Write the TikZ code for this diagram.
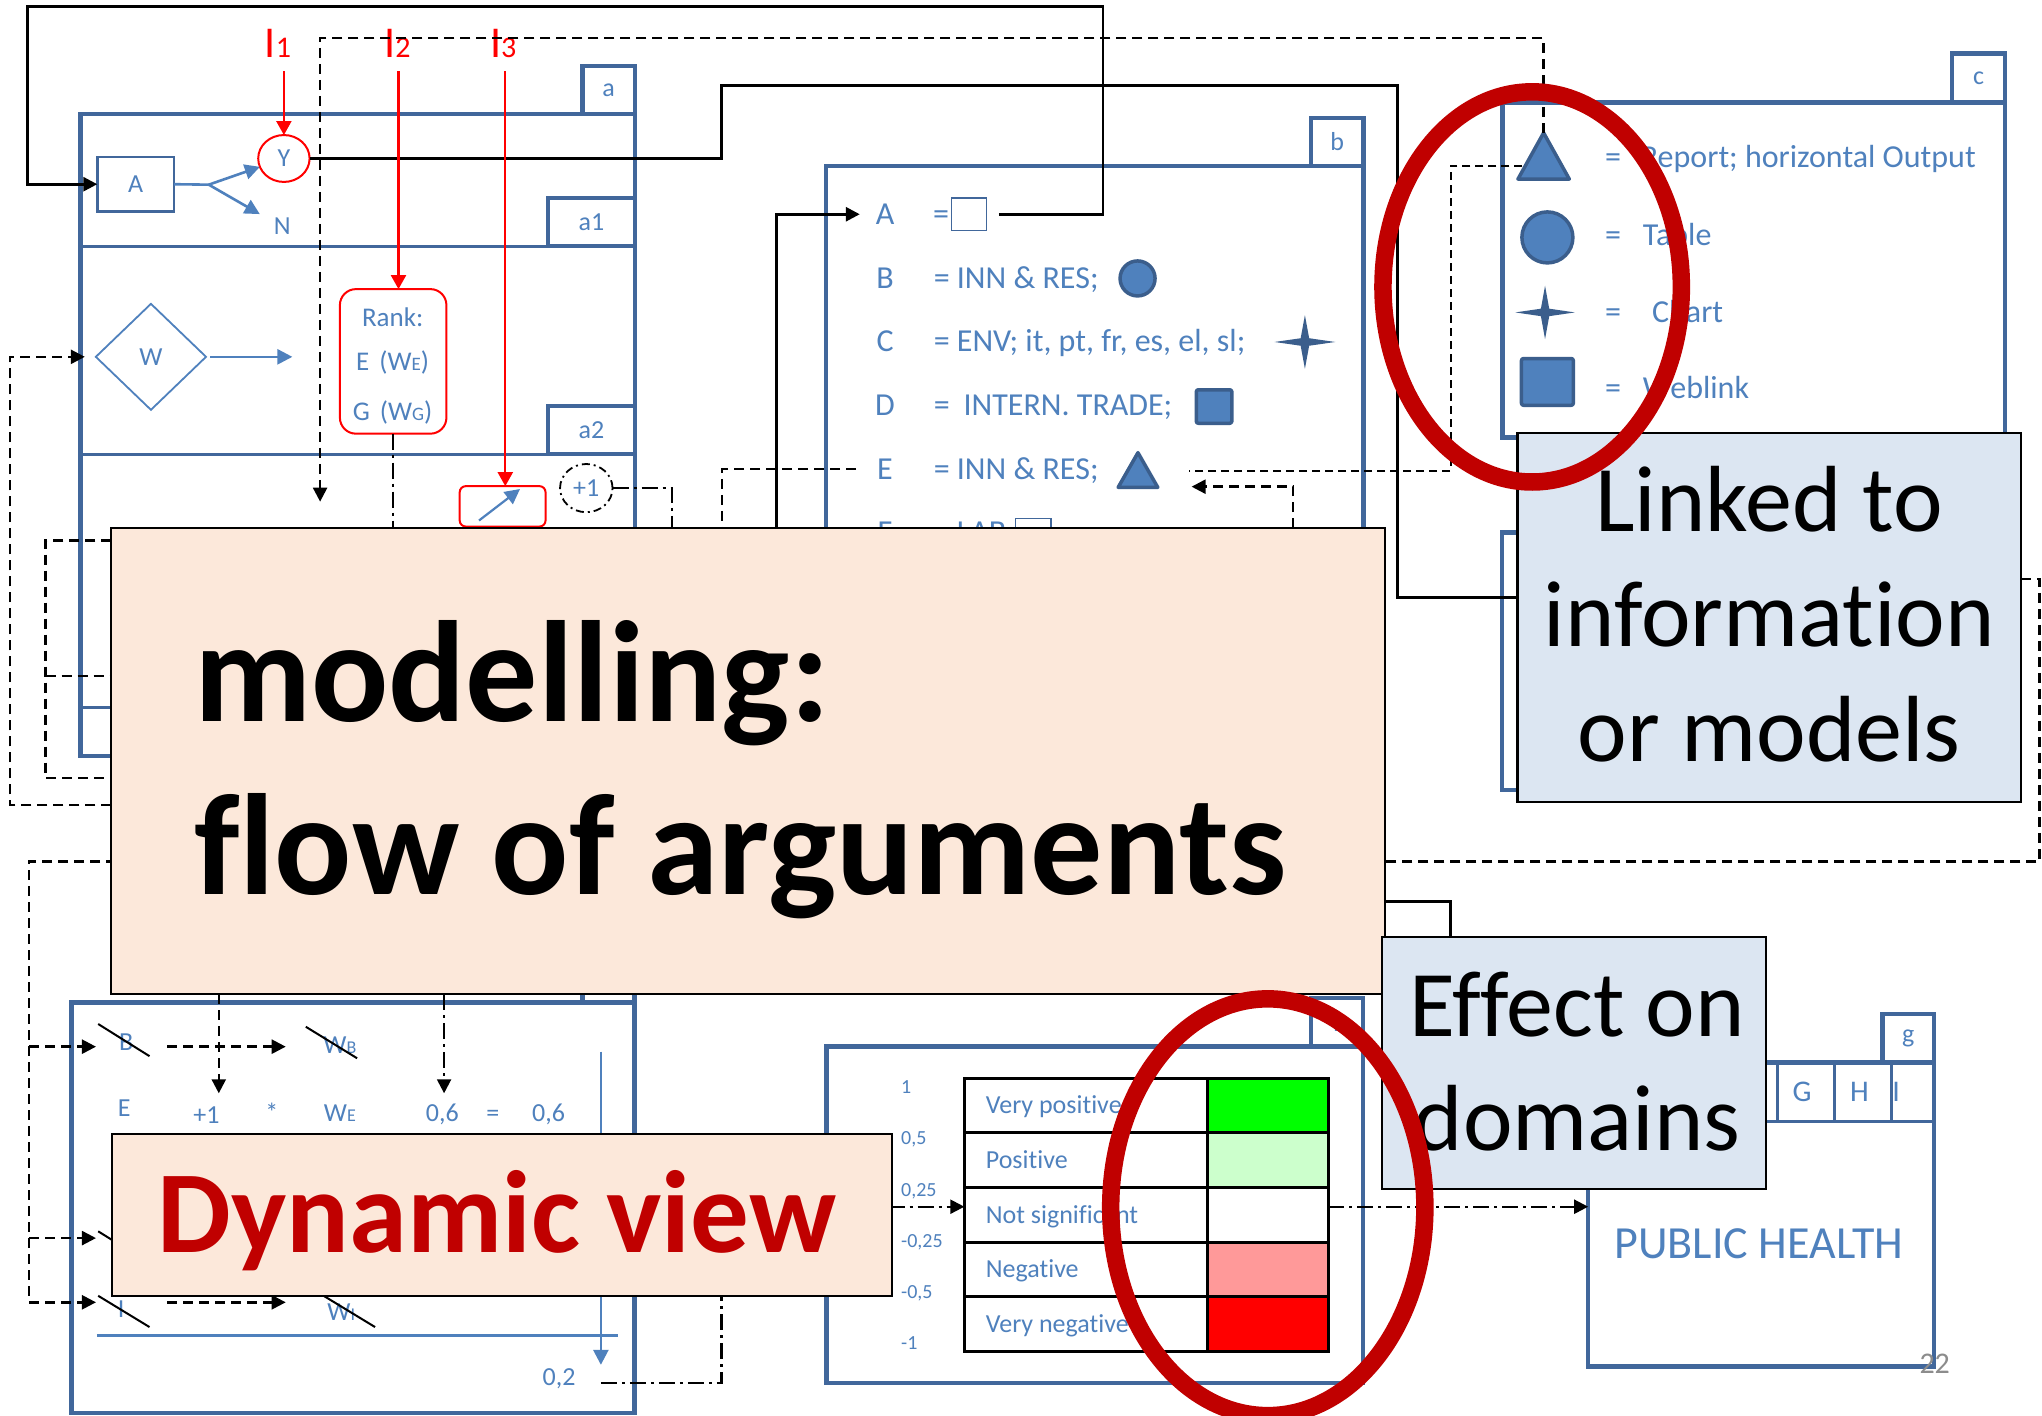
\documentclass[tikz,border=0pt]{standalone}
\usepackage{fontspec}
\setmainfont{Carlito}[Ligatures=NoCommon]
\usetikzlibrary{arrows.meta,fit,shapes.geometric,calc}
\definecolor{boxblue}{HTML}{41679B}
\definecolor{txtblue}{HTML}{4F81BD}
\definecolor{shpfill}{HTML}{4F81BD}
\definecolor{shpedge}{HTML}{3B5E8C}
\definecolor{peach}{HTML}{FCE8DA}
\definecolor{paleblue}{HTML}{DCE6F2}
\definecolor{darkred}{HTML}{C00000}
\definecolor{lgreen}{HTML}{CCFFCC}
\definecolor{lpink}{HTML}{FF9999}
\definecolor{pgray}{HTML}{8C8C8C}
\newcommand\fs[1]{\fontsize{#1}{#1}\selectfont}
\pgfdeclarelayer{front}
\pgfdeclarelayer{top}
\pgfsetlayers{main,front,top}
\tikzset{star4/.pic={\fill[shpedge] (0,-1) -- (0.14,-0.14) -- (1,0) -- (0.14,0.14) -- (0,1) -- (-0.14,0.14) -- (-1,0) -- (-0.14,-0.14) -- cycle;}}
\begin{document}
\begin{tikzpicture}[x=1.3023pt,y=-1.3023pt,
  every node/.style={inner sep=0pt,outer sep=0pt},
  bx/.style={draw=boxblue,line width=4.5pt},
  sepl/.style={draw=boxblue,line width=3pt},
  tabbox/.style={draw=boxblue,line width=4.5pt,fill=white},
  tl/.style={text=txtblue,font=\fs{26}},
  rowl/.style={text=txtblue,font=\fs{32},anchor=base},
  rowt/.style={text=txtblue,font=\fs{32},anchor=base west},
  blk/.style={draw=black,line width=2.8pt},
  dsh/.style={draw=black,line width=2.4pt,dash pattern=on 10pt off 6pt},
  dshf/.style={draw=black,line width=2pt,dash pattern=on 8pt off 5pt},
  dd/.style={draw=black,line width=2.2pt,dash pattern=on 16pt off 5pt on 3pt off 5pt},
  arr/.style={-{Triangle[length=14pt,width=14pt]}},
  rarr/.style={draw=red,line width=2.2pt,-{Triangle[length=14pt,width=15pt]}},
  blu/.style={draw=txtblue,line width=2.6pt},
  barr/.style={-{Triangle[length=15pt,width=15pt]}},
  shp/.style={fill=shpfill,draw=shpedge,line width=3.5pt,line join=round},
  slash/.style={draw=black,line width=2pt},
  bigbox/.style={draw=black,line width=2.2pt},
  cell/.style={draw=black,line width=3.2pt},
]
\fill[white] (0,0) rectangle (1568,1087);
\useasboundingbox (0,0) rectangle (1568,1087);

% ================= box a =================
\node[fit={(61.7,87.7)(487.5,580.6)},bx] (boxa) {};
\draw[sepl] (61.7,189) -- (487.5,189);
\draw[sepl] (61.7,348.7) -- (487.5,348.7);
\draw[sepl] (61.7,543.5) -- (487.5,543.5);
\node[fit={(447.3,50.8)(487.5,87.7)},tabbox] (taba) {};
\node[tl] (la) at (taba.center) {a};
\node[fit={(420.9,152)(487.5,189)},tabbox] (taba1) {};
\node[tl] (la1) at (taba1.center) {a1};
\node[fit={(420.9,311.7)(487.5,348.7)},tabbox] (taba2) {};
\node[tl] (la2) at (taba2.center) {a2};

\node[fit={(74.7,120.7)(133.7,162.2)},draw=boxblue,line width=2.6pt] (Abox) {};
\node[tl] (Alab) at (Abox.center) {A};
\node[ellipse,draw=red,line width=2pt,minimum width=51.4pt,minimum height=46.9pt,tl] (Y) at (218,121.7) {Y};
\node[tl] (N) at (216.7,173.3) {N};
\draw[blu] (Abox.east) -- (160.3,141.8) coordinate (split);
\draw[blu,barr] (split) -- (Y);
\draw[blu,barr] (split) -- (199.5,164.4) coordinate (Ntip);

\node[diamond,draw=txtblue,line width=1.8pt,minimum width=110.2pt,minimum height=106pt,tl] (W) at (115.9,274) {W};
\draw[blu,barr] ([xshift=4pt]W.east) -- (224.5,274) coordinate (Wout);

\node[fit={(261,222)(342.8,333)},draw=red,line width=2pt,rounded corners=16pt] (rank) {};
\node[tl,font=\fs{27}] (rk1) at (301.5,243.4) {Rank:};
\node[tl,font=\fs{27}] (rk2) at (301.5,278.5) {E\hspace{10pt}(W{\fs{19}E})};
\node[tl,font=\fs{27}] (rk3) at (301.5,316.6) {G\hspace{10pt}(W{\fs{19}G})};

\node[fit={(353,373.3)(418.9,404.3)},draw=red,line width=2pt,rounded corners=6pt] (redbox) {};
\draw[blu,barr,line width=2.2pt] (367.8,399.7) coordinate (rbs) -- (399.3,375.5) coordinate (rbe);
\node[ellipse,draw=black,line width=1.8pt,dash pattern=on 8pt off 4pt on 2pt off 4pt,minimum width=52.5pt,minimum height=48.2pt,tl] (plus1) at (450.2,374.8) {+1};

\node[text=red,font=\fs{44},anchor=base] (I1) at (213.4,43.9) {I{\fs{30}1}};
\node[text=red,font=\fs{44},anchor=base] (I2) at (305.2,43.9) {I{\fs{30}2}};
\node[text=red,font=\fs{44},anchor=base] (I3) at (386.4,43.9) {I{\fs{30}3}};

% ================= box b =================
\node[fit={(634.4,127.5)(1047,740)},bx] (boxb) {};
\node[fit={(1006.5,90.5)(1047,127.5)},tabbox] (tabb) {};
\node[tl] (lb) at (tabb.center) {b};
\node[rowl] (bA) at (679.6,172.4) {A};
\node[rowl] (bAeq) at (722.6,172.4) {=};
\node[fit={(730.5,152)(757.6,176.9)},draw=boxblue,line width=1.2pt,fill=white] (bAsq) {};
\node[rowl] (bB) at (679.6,221.7) {B};
\node[rowt] (bBt) at (717,221.7) {= INN \& RES;};
\node[circle,shp,minimum size=35pt] (bBc) at (873.5,213.8) {};
\node[rowl] (bC) at (679.6,269.7) {C};
\node[rowt] (bCt) at (717,269.7) {= ENV; it, pt, fr, es, el, sl;};
\node[fit={(978.7,242)(1025.3,283.2)}] (bCs) {};
\pic[xscale=23.3,yscale=20.6] at (bCs.center) {star4};
\node[rowl] (bD) at (679.6,318.9) {D};
\node[rowt] (bDt) at (717,318.9) {=\hspace{14pt}INTERN. TRADE;};
\node[fit={(918.6,299.3)(945.9,325)},shp,rounded corners=2pt] (bDsq) {};
\node[rowl] (bE) at (679.6,367.9) {E};
\node[rowt] (bEt) at (717,367.9) {= INN \& RES;};
\node[fit={(858.6,347.6)(889,374.2)}] (bEtri) {};
\filldraw[shp] (bEtri.north) -- (bEtri.south east) -- (bEtri.south west) -- cycle;
\node[rowl] (bF) at (679.6,416.9) {F};
\node[rowt] (bFt) at (717,416.9) {= LAB};
\node[fit={(780,398)(807,422)},draw=boxblue,line width=1.2pt] (bFsq) {};

% ================= box c =================
\node[fit={(1153.6,78.7)(1539.5,335.8)},bx] (boxc) {};
\node[fit={(1499,41)(1539.5,78.7)},tabbox] (tabc) {};
\node[tl] (lc) at (tabc.center) {c};
\node[fit={(1165.6,102)(1205,137.5)}] (ctri) {};
\filldraw[shp] (ctri.north) -- (ctri.south east) -- (ctri.south west) -- cycle;
\node[circle,shp,minimum size=51pt] (ccirc) at (1188.2,182.3) {};
\node[fit={(1163.6,219.4)(1209.2,260.4)}] (cstar) {};
\pic[xscale=22.8,yscale=20.5] at (cstar.center) {star4};
\node[fit={(1168.3,275.3)(1208.1,311.2)},shp,rounded corners=2pt] (csq) {};
\node[rowl] (ce1) at (1238.6,128.9) {=};
\node[rowt] (ct1) at (1260,128.9) {Report; horizontal Output};
\node[rowl] (ce2) at (1238.6,188.6) {=};
\node[rowt] (ct2) at (1261.6,188.6) {Table};
\node[rowl] (ce3) at (1238.6,247.6) {=};
\node[rowt] (ct3) at (1268.6,247.6) {Chart};
\node[rowl] (ce4) at (1238.6,306.2) {=};
\node[rowt] (ct4) at (1261.6,306.2) {Weblink};

% ================= box d (hidden) =================
\node[fit={(1153.4,409)(1540,606.6)},bx] (boxd) {};

% ================= box e (bottom left) =================
\node[fit={(54.8,769.6)(487.4,1085)},bx] (boxe) {};
\node[fit={(447.3,740)(487.4,769.6)},tabbox] (tabe) {};
\node[tl,anchor=base] (eB) at (96.9,806.3) {B};
\node[tl,anchor=base] (eWB) at (261,808.7) {W{\fs{18}B}};
\node[tl,anchor=base] (eE) at (95.4,857.5) {E};
\node[tl,anchor=base] (ep1) at (158.5,862.4) {+1};
\node[tl,anchor=base] (estar) at (208.8,861) {*};
\node[tl,anchor=base] (eWE) at (261,861) {W{\fs{18}E}};
\node[tl,anchor=base] (e06a) at (339.7,861.3) {0,6};
\node[tl,anchor=base] (eeq) at (378.4,861.3) {=};
\node[tl,anchor=base] (e06b) at (421.2,861.3) {0,6};
\node[tl,anchor=base] (eI) at (93,1012) {I};
\node[tl,anchor=base] (eWI) at (262,1013.6) {W{\fs{18}I}};
\node[tl,anchor=base] (e02) at (429.3,1063.5) {0,2};
\draw[slash] (75.4,786.3) -- (114.8,811);
\draw[slash] (234.8,788.4) -- (274.2,812.6);
\draw[slash] (75.4,945.5) -- (114.8,970);
\draw[slash] (75.4,995) -- (114.8,1019);
\draw[slash] (248.5,995) -- (288,1019);
\draw[blu] (74.4,1025.6) -- (474.8,1025.6);
\draw[blu,barr] (461.4,807.5) coordinate (vtop) -- (461.4,1048) coordinate (vbot);

% ================= box f (scale table) =================
\node[fit={(634.5,803.7)(1046.6,1062)},bx] (boxf) {};
\node[fit={(1006.5,766.5)(1046.6,803.7)},tabbox] (tabf) {};
\node[tl] (lf) at (tabf.center) {f};
\node[fit={(927.3,828)(1020,869.8)},cell,fill=green] (t1r) {};
\node[fit={(927.3,869.8)(1020,911.7)},cell,fill=lgreen] (t2r) {};
\node[fit={(927.3,911.7)(1020,953.9)},cell,fill=white] (t3r) {};
\node[fit={(927.3,953.9)(1020,995.7)},cell,fill=lpink] (t4r) {};
\node[fit={(927.3,995.7)(1020,1038)},cell,fill=red] (t5r) {};
\node[fit={(740.5,828)(927.3,869.8)},cell] (t1l) {};
\node[fit={(740.5,869.8)(927.3,911.7)},cell] (t2l) {};
\node[fit={(740.5,911.7)(927.3,953.9)},cell] (t3l) {};
\node[fit={(740.5,953.9)(927.3,995.7)},cell] (t4l) {};
\node[fit={(740.5,995.7)(927.3,1038)},cell] (t5l) {};
\node[tl,anchor=base west] (tx1) at (757,855.3) {Very positive};
\node[tl,anchor=base west] (tx2) at (757,897.2) {Positive};
\node[tl,anchor=base west] (tx3) at (757,939.2) {Not significant};
\node[tl,anchor=base west] (tx4) at (757,981.2) {Negative};
\node[tl,anchor=base west] (tx5) at (757,1023.3) {Very negative};
\node[tl,font=\fs{20},anchor=base west] (s1) at (692,839.5) {1};
\node[tl,font=\fs{20},anchor=base west] (s2) at (692,879.2) {0,5};
\node[tl,font=\fs{20},anchor=base west] (s3) at (692,918.4) {0,25};
\node[tl,font=\fs{20},anchor=base west] (s4) at (692,958) {-0,25};
\node[tl,font=\fs{20},anchor=base west] (s5) at (692,997) {-0,5};
\node[tl,font=\fs{20},anchor=base west] (s6) at (692,1036) {-1};

% ================= box g =================
\node[fit={(1219.5,815.8)(1485,1049.4)},bx] (gbox) {};
\draw[sepl] (1219.5,861.4) -- (1485,861.4);
\draw[sepl] (1364.6,815.8) -- (1364.6,861.4);
\draw[sepl] (1409,815.8) -- (1409,861.4);
\draw[sepl] (1452.4,815.8) -- (1452.4,861.4);
\node[fit={(1445.6,778.5)(1485,815.8)},tabbox] (tabg) {};
\node[tl] (lg) at (tabg.center) {g};
\node[tl,font=\fs{30},anchor=base] (gG) at (1383.7,846) {G};
\node[tl,font=\fs{30},anchor=base] (gH) at (1427.8,846) {H};
\node[tl,font=\fs{30},anchor=base] (gI) at (1456,846) {I};
\node[tl,font=\fs{46},anchor=base west] (ph) at (1239.8,966.7) {PUBLIC HEALTH};
\node[text=pgray,font=\fs{30},anchor=base] (pg) at (1485.6,1055) {22};

% ================= overlay boxes =================
\begin{pgfonlayer}{front}
\node[fit={(85.5,405.6)(1063.5,763.5)},bigbox,fill=peach] (model) {};
\node[font=\fs{144}\bfseries,anchor=base west] (m1) at (149,553.8) {modelling:};
\node[font=\fs{144}\bfseries,anchor=base west] (m2) at (149,686.9) {flow of arguments};
\node[fit={(85.7,870.8)(685,995)},bigbox,fill=peach] (dyn) {};
\node[font=\fs{117}\bfseries,text=darkred,anchor=base west] (dyn1) at (121,962) {Dynamic view};
\node[fit={(1165.3,332.2)(1552,615.6)},bigbox,fill=paleblue] (linked) {};
\node[font=\fs{94},anchor=base] (lk1) at (1358.6,408) {Linked to};
\node[font=\fs{94},anchor=base] (lk2) at (1358.6,496.7) {information};
\node[font=\fs{94},anchor=base] (lk3) at (1358.6,585) {or models};
\node[fit={(1061,719.5)(1356,913)},bigbox,fill=paleblue] (effect) {};
\node[font=\fs{94},anchor=base] (ef1) at (1211,796) {Effect on};
\node[font=\fs{94},anchor=base] (ef2) at (1211,883.5) {domains};
\end{pgfonlayer}

\begin{pgfonlayer}{top}
\draw[darkred,line width=17.5pt] (1176.5,220.3) ellipse [x radius=149.2pt,y radius=195.1pt];
\draw[darkred,line width=17.5pt] (973.5,927) ellipse [x radius=157.1pt,y radius=208.4pt];
\end{pgfonlayer}

% ================= connectors =================
\coordinate (bAout) at (767,164.5);
\draw[blk,arr] (bAout) -- (847,164.5) -- (847,4.7) -- (21.3,4.7) |- (Abox.west);
\draw[dsh,arr] (ctri.north) -- (ctri.north |- 0,29.3) -- (245.8,29.3) -- (245.8,385.2) coordinate (dashTip);
\draw[blk] (Y.east) -| (554.2,65.8) -| (1073.2,459) -- (linked.west |- 0,459);
\draw[blk,arr,shorten >=16pt] (model.north -| 596,0) |- (bA.west);
\draw[dsh,shorten <=21pt] (bE.west) -| (model.north -| 554.6,0);
\coordinate (ctriL) at (1169,127.5);
\draw[dshf] (ctriL) -- (1113.8,127.5) -- (1113.8,361.4) -- (913,361.4) coordinate (bEright);
\draw[dsh,arr] (model.north -| 993,0) |- (915,373.7) coordinate (bEarr);
\draw[dd] (plus1.east) -| (model.north -| 515.9,0);
\draw[dd] (rank.south) -- (rank.south |- model.north);
\draw[rarr,shorten <=14pt] (Y.north |- I1.south) -- (Y.north);
\draw[rarr,shorten <=14pt] (I2.south -| 306,0) -- (rank.north -| 306,0);
\draw[rarr,shorten <=14pt] (I3.south -| 388,0) -- (redbox.north -| 388,0);

\draw[dsh,arr] (model.west |- 0,618) -| (7.5,274) -- ([xshift=-11pt]W.west);
\draw[dsh] (model.west |- 0,415) -| (35,597.5) -- (model.west |- 0,597.5);
\draw[dsh] (35,519) -- (model.west |- 0,519);
\draw[dsh,arr] (linked.east |- 0,444.6) -| (1566,661.6) -- (22.3,661.6) -- (22.3,1000) -- (73.7,1000);
\draw[dsh,arr] (22.3,803.7) -- (73.7,803.7);
\draw[dsh,arr] (22.3,950.7) -- (73.7,950.7);
\draw[dsh,arr] (128.5,803.7) -- (219.4,803.7);
\draw[dsh,arr] (128.5,1000) -- (219.4,1000);
\draw[dsh,arr] (model.south -| 168,0) -- (168,839.5);
\draw[dd,arr] (model.south -| 341,0) -- (341,839.5);
\draw[dd,arr] (461.4,1062) -- (554,1062) -- (554,926.6) -- (t3l.west |- 0,926.6);
\draw[dd,arr] (t3r.east |- 0,926.6) -- (gbox.west |- 0,926.6);
\draw[blk] (model.east |- 0,692.4) -| (effect.north -| 1113.5,0);
\end{tikzpicture}
\end{document}
